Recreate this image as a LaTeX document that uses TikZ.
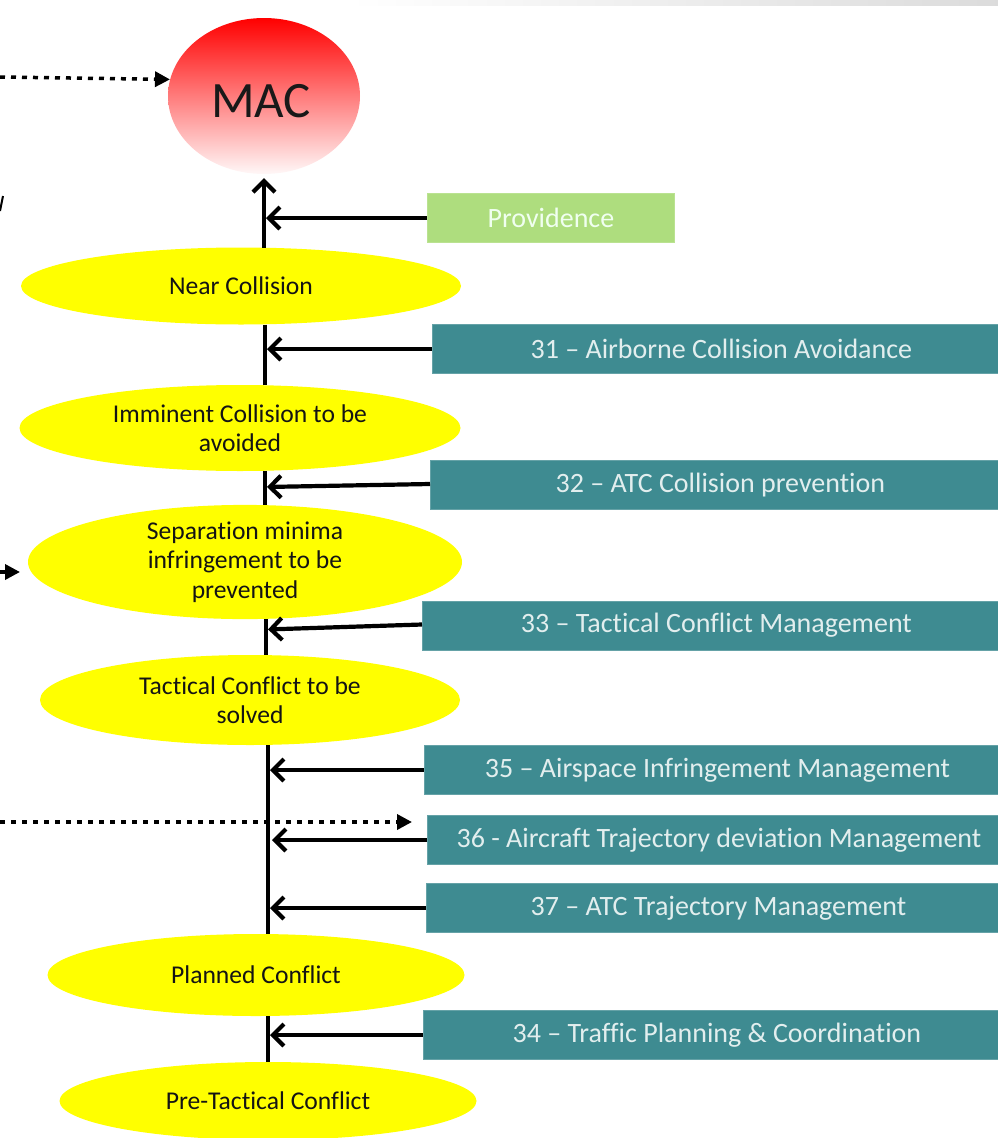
\documentclass[tikz,border=0pt]{standalone}
\usepackage{fontspec}
\setmainfont{Carlito}[Ligatures={NoCommon}]
\usetikzlibrary{shapes.geometric,arrows.meta}
\definecolor{boxteal}{HTML}{3E8B91}
\definecolor{boxgreen}{HTML}{AEDD7E}
\definecolor{boxtext}{HTML}{E2EEEE}
\definecolor{stateyellow}{HTML}{FFFF00}
\begin{document}
\begin{tikzpicture}[x=1pt,y=-1pt,
  statenode/.style={ellipse, fill=stateyellow, inner sep=0pt, outer sep=0pt,
    align=center, text=black!92, font=\fontsize{25.6}{29.5}\selectfont},
  barrier/.style={rectangle, fill=boxteal, draw=boxteal!80!white, line width=0.8pt,
    anchor=west, minimum height=49pt, inner sep=0pt, text=boxtext,
    font=\fontsize{28}{32}\selectfont},
  spine/.style={line width=4.2pt},
  feed/.style={line width=4.2pt, -{Straight Barb[length=11pt,width=22pt]}, shorten >=2pt},
  dotarrow/.style={line width=3.5pt, dash pattern=on 5pt off 6pt,
    -{Triangle[length=15pt,width=15pt]}}]
\useasboundingbox (0,0) rectangle (998,1138);

% faint header band
\shade[left color=white, right color=black!14] (350,0) rectangle (998,5);

% outcome at the top
\node[ellipse, minimum width=192pt, minimum height=156pt, inner sep=0pt,
  top color=red, bottom color=red!3, shading=axis,
  font=\fontsize{51}{60}\selectfont, text=black!90] (mac) at (264,96)
  {\raisebox{-5pt}[\height][\depth]{\hspace*{-6pt}MAC}};

% states along the chain
\node[statenode, minimum width=440pt, minimum height=77pt] (nc) at (241,286) {Near Collision};
\node[statenode, minimum width=441pt, minimum height=86pt] (ic) at (240,428) {Imminent Collision to be\\avoided};
\node[statenode, minimum width=434pt, minimum height=100pt] (sep) at (245,562) {Separation minima\\infringement to be\\prevented};
\node[statenode, minimum width=420pt, minimum height=90pt] (tac) at (250,700) {Tactical Conflict to be\\solved};
\node[statenode, minimum width=417pt, minimum height=82pt] (pc) at (256,975) {Planned Conflict};
\node[statenode, minimum width=417pt, minimum height=78pt] (ptc) at (268,1101) {Pre-Tactical Conflict};

% barriers
\node[barrier, fill=boxgreen, draw=boxgreen!85!white, text=white!94!green,
  minimum width=247pt] (prov) at (427,218) {Providence};
\node[barrier, minimum width=578pt] (b31) at (432,349) {31 – Airborne Collision Avoidance};
\node[barrier, minimum width=580pt] (b32) at (430,485) {32 – ATC Collision prevention};
\node[barrier, minimum width=588pt] (b33) at (422,625.5) {33 – Tactical Conflict Management};
\node[barrier, minimum width=586pt] (b35) at (424,770) {35 – Airspace Infringement Management};
\node[barrier, minimum width=583pt] (b36) at (427,840) {36 - Aircraft Trajectory deviation Management};
\node[barrier, minimum width=584pt] (b37) at (426,908) {37 – ATC Trajectory Management};
\node[barrier, minimum width=587pt] (b34) at (423,1035) {34 – Traffic Planning \& Coordination};

% spine positions
\coordinate (sa) at (265,0);
\coordinate (sb) at (266,0);
\coordinate (sc) at (268,0);

% chain segments
\draw[spine, -{Straight Barb[length=11pt,width=22pt]}] (nc.north -| mac.south) -- ([yshift=-4pt]mac.south);
\draw[spine] (nc.south -| sa) -- (ic.north -| sa);
\draw[spine] (ic.south -| sa) -- (sep.north -| sa);
\draw[spine] (sep.south -| sb) -- (tac.north -| sb);
\draw[spine] (tac.south -| sc) -- (pc.north -| sc);
\draw[spine] (pc.south -| sc) -- (ptc.north -| sc);

% barrier feeds
\draw[feed] (prov.west) -- (prov.west -| mac.south);
\draw[feed] (b31.west) -- (b31.west -| sa);
\draw[feed] ([yshift=1pt]b32.west) -- ([yshift=-2pt]b32.west -| sa);
\draw[feed] ([yshift=1pt]b33.west) -- ([yshift=-4pt]b33.west -| sb);
\draw[feed] (b35.west) -- (b35.west -| sc);
\draw[feed] (b36.west) -- ([xshift=2pt]b36.west -| sc);
\draw[feed] (b37.west) -- (b37.west -| sc);
\draw[feed] (b34.west) -- (b34.west -| sc);

% incoming dotted links
\coordinate (in1) at (0,77);
\coordinate (in2) at (0,572);
\coordinate (in3) at (0,822);
\draw[dotarrow] (in1) -- (mac.170);
\draw[dotarrow, shorten >=8pt] (in2) -- ([yshift=-10pt]sep.west);
\draw[dotarrow, shorten >=15pt] (in3) -- ([yshift=18pt]b36.west);

% cut-off mark at the left edge
\draw[line width=2pt] (0,211) -- (3,196);
\end{tikzpicture}
\end{document}
